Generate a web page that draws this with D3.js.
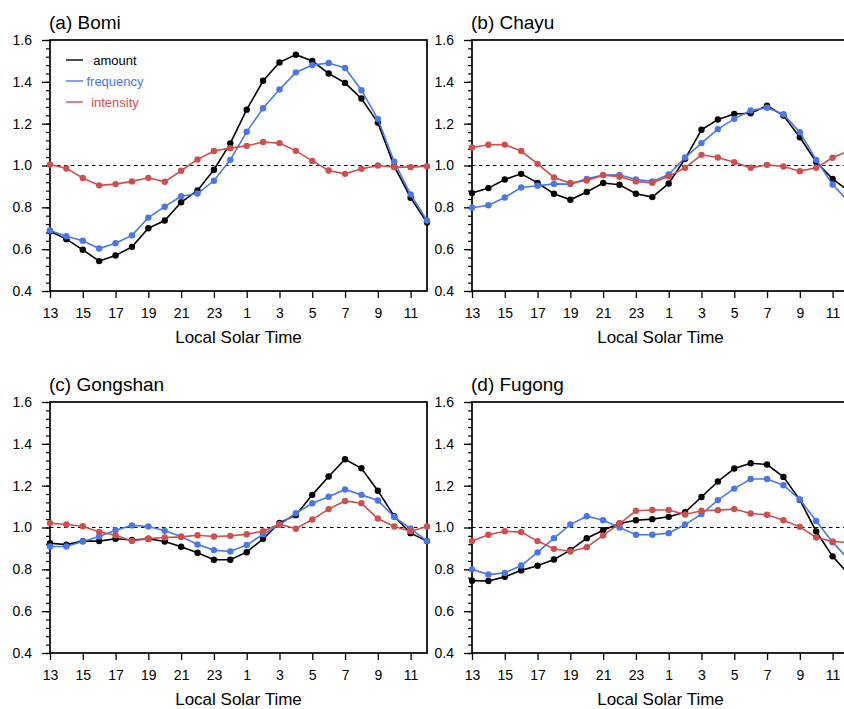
<!DOCTYPE html>
<html>
<head>
<meta charset="utf-8">
<script src="https://cdn.jsdelivr.net/npm/d3@7"></script>
<style>
  body { margin: 0; background: #fff; }
  svg { display: block; font-family: "Liberation Sans", Arial, Helvetica, sans-serif; }
</style>
</head>
<body>
<svg id="chart" width="844" height="709"></svg>
<script>
// hours from 13 LST to 12 LST next day
const hours = [13,14,15,16,17,18,19,20,21,22,23,24,1,2,3,4,5,6,7,8,9,10,11,12];
const tickHours = [13,15,17,19,21,23,1,3,5,7,9,11];
const yTicks = [0.4, 0.6, 0.8, 1.0, 1.2, 1.4, 1.6];

const stations = ["(a) Bomi", "(b) Chayu", "(c) Gongshan", "(d) Fugong"];
const seriesNames = ["amount", "frequency", "intensity"];
const seriesColors = ["#000000", "#4a77e8", "#cf4e4e"];

const bomiAmount = [0.686,0.648,0.597,0.543,0.570,0.611,0.700,0.737,0.824,0.881,0.980,1.106,
                    1.267,1.405,1.493,1.530,1.500,1.440,1.395,1.320,1.205,0.997,0.846,0.727];
const bomiFrequency = [0.689,0.662,0.640,0.603,0.628,0.666,0.751,0.803,0.853,0.866,0.927,1.027,
                       1.161,1.274,1.363,1.445,1.480,1.490,1.466,1.360,1.222,1.018,0.862,0.737];
const bomiIntensity = [1.005,0.986,0.940,0.905,0.911,0.924,0.941,0.922,0.975,1.029,1.069,1.083,
                       1.094,1.112,1.107,1.070,1.022,0.976,0.960,0.984,1.000,0.992,0.992,0.997];

const chayuAmount = [0.868,0.892,0.933,0.960,0.917,0.865,0.836,0.873,0.916,0.908,0.865,0.849,
                     0.914,1.032,1.171,1.220,1.246,1.250,1.286,1.239,1.135,1.017,0.936,0.877];
const chayuFrequency = [0.798,0.810,0.847,0.895,0.903,0.912,0.911,0.936,0.954,0.955,0.933,0.924,
                        0.957,1.038,1.107,1.174,1.223,1.263,1.276,1.245,1.159,1.027,0.909,0.825];
const chayuIntensity = [1.086,1.099,1.100,1.069,1.008,0.943,0.916,0.928,0.954,0.946,0.924,0.917,
                        0.949,0.989,1.051,1.038,1.016,0.989,1.003,0.995,0.973,0.989,1.037,1.070];

const gongshanAmount = [0.925,0.918,0.935,0.935,0.946,0.940,0.946,0.933,0.908,0.879,0.846,0.846,
                        0.882,0.946,1.022,1.059,1.156,1.244,1.326,1.283,1.176,1.054,0.973,0.935];
const gongshanFrequency = [0.909,0.909,0.933,0.957,0.987,1.010,1.005,0.984,0.957,0.919,0.892,0.885,
                           0.916,0.967,1.013,1.068,1.116,1.147,1.182,1.156,1.129,1.051,0.995,0.935];
const gongshanIntensity = [1.021,1.014,1.006,0.979,0.963,0.936,0.947,0.952,0.955,0.963,0.957,0.960,
                           0.968,0.982,1.016,0.994,1.038,1.088,1.127,1.116,1.043,1.005,0.982,1.005];

const fugongAmount = [0.746,0.744,0.764,0.795,0.817,0.847,0.892,0.949,0.987,1.019,1.035,1.040,
                      1.051,1.073,1.146,1.220,1.282,1.307,1.301,1.242,1.132,0.981,0.862,0.775];
const fugongFrequency = [0.800,0.775,0.783,0.818,0.881,0.949,1.014,1.054,1.035,1.000,0.965,0.965,
                         0.973,1.014,1.064,1.131,1.186,1.232,1.232,1.202,1.134,1.031,0.930,0.845];
const fugongIntensity = [0.936,0.965,0.982,0.978,0.935,0.898,0.885,0.906,0.962,1.019,1.080,1.084,
                         1.084,1.062,1.080,1.083,1.088,1.067,1.061,1.035,1.003,0.952,0.933,0.928];

const panelData = [
  [bomiAmount, bomiFrequency, bomiIntensity],
  [chayuAmount, chayuFrequency, chayuIntensity],
  [gongshanAmount, gongshanFrequency, gongshanIntensity],
  [fugongAmount, fugongFrequency, fugongIntensity]
];

const plotW = 377, plotH = 251;
const origins = [[50, 40], [472, 40], [50, 402], [472, 402]];

const svg = d3.select("#chart");

// x uses the position in the day (0..23), labels map back to LST
const x = d3.scaleLinear().domain([0, hours.length - 1]).range([0, plotW]);
const y = d3.scaleLinear().domain([0.4, 1.6]).range([plotH, 0]);

let minorY = [];
for (let k = 0; k <= 30; k++) minorY.push(0.4 + k * 0.04);

for (let p = 0; p < stations.length; p++) {
  const g = svg.append("g").attr("transform", "translate(" + origins[p][0] + "," + origins[p][1] + ")");

  // reference line at 1.0
  g.append("line")
    .attr("x1", 0).attr("x2", plotW)
    .attr("y1", y(1.0)).attr("y2", y(1.0))
    .attr("stroke", "#000").attr("stroke-width", 1.1)
    .attr("stroke-dasharray", "3.5,3.5");

  // minor y ticks
  const minorAxis = g.append("g")
    .call(d3.axisLeft(y).tickValues(minorY).tickSize(4).tickFormat(""));
  minorAxis.select(".domain").remove();
  minorAxis.selectAll("line").attr("stroke-width", 1.2);

  // major y ticks
  const yAxis = g.append("g")
    .call(d3.axisLeft(y).tickValues(yTicks).tickSize(8).tickPadding(10).tickFormat(d3.format(".1f")));
  yAxis.select(".domain").remove();
  yAxis.selectAll("line").attr("stroke-width", 1.3);
  yAxis.selectAll("text").attr("font-size", 14).attr("font-family", "Liberation Sans, Arial, sans-serif");

  // x ticks
  const xAxis = g.append("g")
    .attr("transform", "translate(0," + plotH + ")")
    .call(d3.axisBottom(x)
      .tickValues(tickHours.map(h => hours.indexOf(h)))
      .tickFormat(i => hours[i])
      .tickSize(7).tickPadding(10));
  xAxis.select(".domain").remove();
  xAxis.selectAll("line").attr("stroke-width", 1.3);
  xAxis.selectAll("text").attr("font-size", 14).attr("font-family", "Liberation Sans, Arial, sans-serif");

  // frame
  g.append("rect")
    .attr("width", plotW).attr("height", plotH)
    .attr("fill", "none").attr("stroke", "#000").attr("stroke-width", 1.7);

  // series
  const line = d3.line()
    .x((d, i) => x(i))
    .y(d => y(d));
  for (let s = 0; s < seriesNames.length; s++) {
    const vals = panelData[p][s];
    g.append("path")
      .datum(vals)
      .attr("d", line)
      .attr("fill", "none")
      .attr("stroke", seriesColors[s])
      .attr("stroke-width", 1.6);
    g.append("g").selectAll("circle")
      .data(vals)
      .enter().append("circle")
      .attr("cx", (d, i) => x(i))
      .attr("cy", d => y(d))
      .attr("r", 3.2)
      .attr("fill", seriesColors[s]);
  }

  // titles
  g.append("text")
    .attr("x", -1).attr("y", -11)
    .attr("font-size", 19)
    .text(stations[p]);
  g.append("text")
    .attr("x", plotW / 2).attr("y", plotH + 52)
    .attr("text-anchor", "middle")
    .attr("font-size", 17)
    .text("Local Solar Time");

  // legend only in first panel
  if (p === 0) {
    for (let s = 0; s < seriesNames.length; s++) {
      const ly = 20 + s * 21;
      g.append("line")
        .attr("x1", 16).attr("x2", 33)
        .attr("y1", ly).attr("y2", ly)
        .attr("stroke", seriesColors[s]).attr("stroke-width", 1.4);
      g.append("text")
        .attr("x", 65).attr("y", ly)
        .attr("dy", "0.35em")
        .attr("text-anchor", "middle")
        .attr("font-size", 13)
        .attr("fill", seriesColors[s])
        .text(seriesNames[s]);
    }
  }
}
</script>
</body>
</html>
